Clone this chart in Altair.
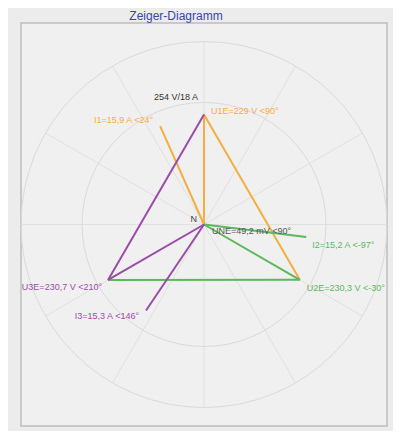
import altair as alt
import pandas as pd
import numpy as np

# ---------------- data ----------------
title_text = "Zeiger-Diagramm"
scale_label = "254 V/18 A"
u_full = 254.0          # voltage at inner ring
i_full = 18.0           # current at inner ring
ring_levels = [1.0, 1.5]
spoke_angles = list(range(0, 360, 30))

phases = ["L1", "L2", "L3"]
u_values = [229.0, 230.3, 230.7]
u_angles = [90, -30, 210]
u_labels = ["U1E=229 V  <90°", "U2E=230,3 V  <-30°", "U3E=230,7 V  <210°"]

i_values = [15.9, 15.2, 15.3]
i_angles = [24, -97, 146]
i_labels = ["I1=15,9 A   <24°", "I2=15,2 A   <-97°", "I3=15,3 A   <146°"]
i_ref_angle = 90        # currents are drawn relative to U1E

une_value_mv = 49.2
une_label = "UNE=49,2 mV   <90°"

phase_colors = ["#f4ae3f", "#5cb85c", "#9a4ca8"]

# ---------------- layout ----------------
W, H = 366, 403
XMAX = 1.5
PX = W / (2 * XMAX)
YMAX = H / 2 / PX
FONT = "Liberation Sans"

def pol(mag, ang):
    r = np.deg2rad(ang)
    return mag * np.cos(r), mag * np.sin(r)

ux, uy = pol(np.array(u_values) / u_full, np.array(u_angles))
ix, iy = pol(np.array(i_values) / i_full, np.array(i_angles) + i_ref_angle)

tips = pd.DataFrame({
    "phase": phases * 2,
    "kind": ["U"] * 3 + ["I"] * 3,
    "x": list(ux) + list(ix),
    "y": list(uy) + list(iy),
    "label": u_labels + i_labels,
})

seg_rows = []
for k in range(3):
    seg_rows.append({"phase": phases[k], "x": 0.0, "y": 0.0, "x2": ux[k], "y2": uy[k]})
    nxt = (k + 1) % 3
    seg_rows.append({"phase": phases[k], "x": ux[k], "y": uy[k], "x2": ux[nxt], "y2": uy[nxt]})
    seg_rows.append({"phase": phases[k], "x": 0.0, "y": 0.0, "x2": ix[k], "y2": iy[k]})
segs = pd.DataFrame(seg_rows)

sx, sy = pol(max(ring_levels), np.array(spoke_angles))
spokes = pd.DataFrame({"x": 0.0, "y": 0.0, "x2": sx, "y2": sy})

xs = alt.Scale(domain=[-XMAX, XMAX], nice=False, zero=False)
ys = alt.Scale(domain=[-YMAX, YMAX], nice=False, zero=False)
X = lambda f="x": alt.X(f"{f}:Q", scale=xs, axis=None)
Y = lambda f="y": alt.Y(f"{f}:Q", scale=ys, axis=None)
color = alt.Color("phase:N", scale=alt.Scale(domain=phases, range=phase_colors), legend=None)

center = pd.DataFrame({"x": [0.0], "y": [0.0]})

rings = [
    alt.Chart(center).mark_point(shape="circle", filled=False, stroke="#dadada",
                                 strokeWidth=1, opacity=1, size=(2 * PX * lv) ** 2)
    .encode(x=X(), y=Y())
    for lv in ring_levels
]

spoke_layer = alt.Chart(spokes).mark_rule(color="#e0e0e0", strokeWidth=1).encode(
    x=X(), y=Y(), x2="x2:Q", y2="y2:Q")

seg_layer = alt.Chart(segs).mark_rule(strokeWidth=2).encode(
    x=X(), y=Y(), x2="x2:Q", y2="y2:Q", color=color)

label_offsets = {
    ("U", "L1"): ("left", 7, -4),
    ("U", "L2"): ("left", 7, 8),
    ("U", "L3"): ("right", -6, 7),
    ("I", "L1"): ("right", -7, -6),
    ("I", "L2"): ("left", 6, 8),
    ("I", "L3"): ("right", -7, 6),
}
text_layers = []
for (kind, ph), (al, dx, dy) in label_offsets.items():
    text_layers.append(
        alt.Chart(tips).transform_filter(
            (alt.datum.kind == kind) & (alt.datum.phase == ph)
        ).mark_text(align=al, baseline="middle", dx=dx, dy=dy, fontSize=9, font=FONT)
        .encode(x=X(), y=Y(), text="label:N", color=color)
    )

n_layer = alt.Chart(pd.DataFrame({"x": [0.0], "y": [0.0], "t": ["N"]})).mark_text(
    align="right", baseline="middle", dx=-7, dy=-6, fontSize=9, font=FONT, color="#444444"
).encode(x=X(), y=Y(), text="t:N")

une_layer = alt.Chart(pd.DataFrame({"x": [0.0], "y": [une_value_mv / 1000 / u_full], "t": [une_label]})).mark_text(
    align="left", baseline="middle", dx=8, dy=7, fontSize=9, font=FONT, color="#555555"
).encode(x=X(), y=Y(), text="t:N")

scale_layer = alt.Chart(pd.DataFrame({"x": [0.0], "y": [ring_levels[0]], "t": [scale_label]})).mark_text(
    align="right", baseline="middle", dx=-6, dy=-6, fontSize=9, font=FONT, color="#333333"
).encode(x=X(), y=Y(), text="t:N")

title_layer = alt.Chart(pd.DataFrame({"x": [0.0], "y": [YMAX], "t": [title_text]})).mark_text(
    align="center", baseline="middle", dx=-28, dy=-7, fontSize=12, font=FONT, color="#3a46a8"
).encode(x=X(), y=Y(), text="t:N")

chart = alt.layer(
    spoke_layer, *rings, seg_layer, *text_layers, n_layer, une_layer, scale_layer, title_layer
).properties(
    width=W, height=H,
    autosize=alt.AutoSizeParams(type="none"),
    padding={"left": 13, "top": 15, "right": 6, "bottom": 5},
    background="#ececec",
).configure_view(fill="#f0f0f0", stroke="#bdbdbd", strokeWidth=1.5)

chart.save("out.html", embed_options={"renderer": "svg", "actions": False})
